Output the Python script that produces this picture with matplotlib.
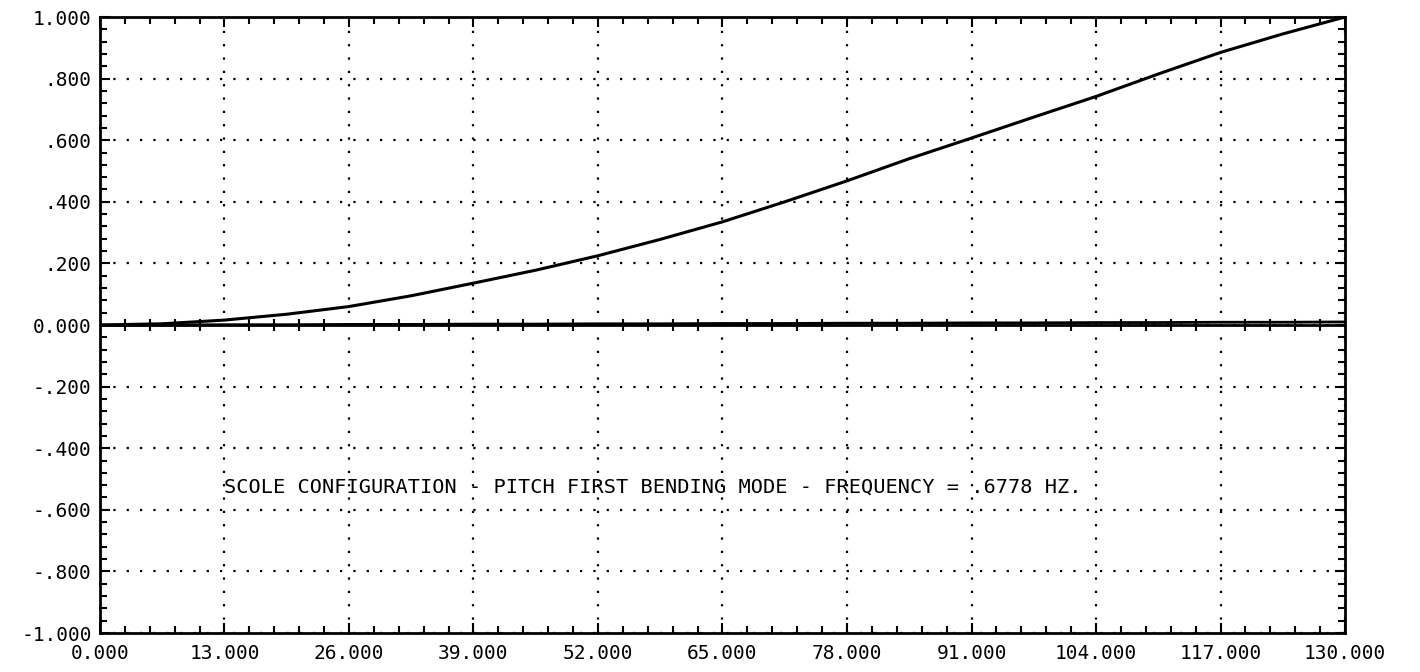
import numpy as np
import matplotlib
matplotlib.use('Agg')
import matplotlib.pyplot as plt
from matplotlib.ticker import MultipleLocator, FuncFormatter

# station along the structure and normalised mode shape
station = [0, 6.5, 13, 19.5, 26, 32.5, 39, 45.5, 52, 58.5, 65,
           71.5, 78, 84.5, 91, 97.5, 104, 110.5, 117, 123.5, 130]
pitch_mode = [0, 0.004, 0.016, 0.035, 0.06, 0.095, 0.136, 0.178, 0.225, 0.278, 0.335,
              0.4, 0.468, 0.54, 0.607, 0.675, 0.742, 0.815, 0.885, 0.945, 1.0]
lateral_mode = [0, 0.0, 0.001, 0.001, 0.002, 0.002, 0.003, 0.003, 0.004, 0.004, 0.005,
                0.005, 0.006, 0.006, 0.007, 0.007, 0.008, 0.008, 0.009, 0.009, 0.010]
title_txt = 'SCOLE CONFIGURATION - PITCH FIRST BENDING MODE - FREQUENCY = .6778 HZ.'

mono = 'DejaVu Sans Mono'


def plotter_fmt(v, pos):
    # old plotter style: 0.000, .800, -.200, 1.000
    if abs(v) < 1e-9:
        return '0.000'
    s = '%.3f' % v
    if abs(v) < 1:
        s = s.replace('0.', '.', 1)
    return s


fig = plt.figure(figsize=(14.2, 6.72), dpi=100)
ax = fig.add_axes([0.0704, 0.058, 0.8768, 0.9167])

ax.plot(station, pitch_mode, color='black', lw=2.2)
ax.plot(station, lateral_mode, color='black', lw=2.0)

ax.set_xlim(0, 130)
ax.set_ylim(-1, 1)
ax.xaxis.set_major_locator(MultipleLocator(13))
ax.xaxis.set_minor_locator(MultipleLocator(2.6))
ax.yaxis.set_major_locator(MultipleLocator(0.2))
ax.yaxis.set_minor_locator(MultipleLocator(0.04))
ax.xaxis.set_major_formatter(FuncFormatter(plotter_fmt))
ax.yaxis.set_major_formatter(FuncFormatter(plotter_fmt))

ax.grid(True, which='major', color='black', linestyle=(0, (1, 5)), lw=1.6)
ax.tick_params(which='both', direction='in', top=True, right=True, color='black', width=1.5)
ax.tick_params(which='major', length=7)
ax.tick_params(which='minor', length=5)
ax.tick_params(axis='x', pad=8, labelsize=14)
ax.tick_params(axis='y', pad=6, labelsize=14)
for lab in ax.get_xticklabels() + ax.get_yticklabels():
    lab.set_family(mono)
for sp in ax.spines.values():
    sp.set_linewidth(2)

# zero axis with tick crosses
ax.axhline(0, color='black', lw=2)
xt = [t for t in ax.xaxis.get_minorticklocs() if 0 <= t <= 130]
ax.plot(xt, np.zeros(len(xt)), ls='none', marker='|', ms=9, mew=1.5, color='black')

ax.text(13, -0.525, title_txt, family=mono, fontsize=14.6, va='center', ha='left')

fig.savefig('out.png', dpi=100)
